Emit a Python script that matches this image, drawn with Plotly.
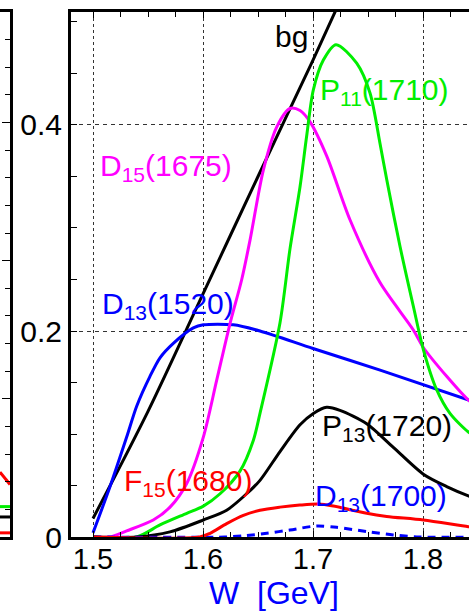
import plotly.graph_objects as go

# Partial-wave contributions to the cross section vs. W [GeV]
w_bg = [1.5, 1.55, 1.6, 1.65, 1.7, 1.73]
bg = [0.018, 0.122, 0.236, 0.350, 0.463, 0.533]

w_d13_1520 = [1.5, 1.5155, 1.5306, 1.5397, 1.5518, 1.5609, 1.573, 1.5912, 1.6003,
              1.6275, 1.6518, 1.70, 1.761, 1.85]
d13_1520 = [0.004, 0.049, 0.097, 0.127, 0.156, 0.174, 0.188, 0.203, 0.206,
            0.206, 0.200, 0.183, 0.162, 0.130]

w_d15_1675 = [1.5, 1.515, 1.5306, 1.5548, 1.57, 1.5852, 1.6003, 1.6124, 1.6245, 1.6352,
              1.6427, 1.6548, 1.667, 1.6791, 1.6882, 1.6973, 1.7124, 1.7336, 1.7609,
              1.7912, 1.8003, 1.8215, 1.8412, 1.85]
d15_1675 = [0.0, 0.0, 0.006, 0.0165, 0.029, 0.052, 0.097, 0.152, 0.207, 0.250,
            0.288, 0.356, 0.398, 0.416, 0.414, 0.403, 0.370, 0.308, 0.247,
            0.201, 0.184, 0.156, 0.133, 0.126]

w_p11_1710 = [1.5, 1.5397, 1.5609, 1.5852, 1.6003, 1.6155, 1.6336, 1.6458, 1.6518, 1.67,
              1.6791, 1.6882, 1.6942, 1.7003, 1.7094, 1.7209, 1.7397, 1.7518, 1.7609,
              1.767, 1.7791, 1.7912, 1.8003, 1.8124, 1.8245, 1.8412, 1.85]
p11_1710 = [0.0, 0.0, 0.0117, 0.023, 0.030, 0.042, 0.064, 0.094, 0.120, 0.208,
            0.280, 0.340, 0.389, 0.434, 0.463, 0.478, 0.460, 0.431, 0.382,
            0.347, 0.282, 0.224, 0.182, 0.143, 0.120, 0.102, 0.097]

w_p13_1720 = [1.5, 1.5397, 1.57, 1.6003, 1.6215, 1.6397, 1.6518, 1.67, 1.6882, 1.7003,
              1.7124, 1.7245, 1.7488, 1.773, 1.8003, 1.8215, 1.8412, 1.85]
p13_1720 = [0.0, 0.0, 0.005, 0.0165, 0.026, 0.042, 0.055, 0.083, 0.109, 0.120,
            0.126, 0.123, 0.110, 0.087, 0.061, 0.049, 0.040, 0.037]

w_f15_1680 = [1.5, 1.597, 1.6064, 1.6215, 1.6367, 1.6518, 1.67, 1.688, 1.705, 1.7185,
              1.7488, 1.767, 1.8003, 1.8412, 1.85]
f15_1680 = [0.0, 0.0, 0.0036, 0.013, 0.021, 0.026, 0.029, 0.031, 0.032, 0.030,
            0.023, 0.020, 0.0165, 0.010, 0.009]

w_d13_1700 = [1.5, 1.62, 1.64, 1.658, 1.679, 1.7033, 1.7215, 1.749, 1.773, 1.797, 1.85]
d13_1700 = [0.0, 0.0, 0.0015, 0.0036, 0.0068, 0.0107, 0.0094, 0.0052, 0.002, 0.0, 0.0]

# Right edge of the neighbouring panel
w_side = [1.83, 1.84]
side_red = [0.047, 0.038]
side_green = [0.022, 0.022]
side_black = [0.0145, 0.0145]
side_red_low = [0.003, 0.003]

x_ticks = [1.5, 1.6, 1.7, 1.8]
y_ticks = [0, 0.2, 0.4]
y_tick_text = ["0", "0.2", "0.4"]

labels = [
    ("bg", 1.6636, 0.4864, "black"),
    ("P<sub>11</sub>(1710)", 1.7045, 0.4325, "#00ee00"),
    ("D<sub>15</sub>(1675)", 1.5045, 0.3587, "#ff00ff"),
    ("D<sub>13</sub>(1520)", 1.5064, 0.2243, "#0000ff"),
    ("F<sub>15</sub>(1680)", 1.5264, 0.0529, "#ff0000"),
    ("P<sub>13</sub>(1720)", 1.7064, 0.1063, "black"),
    ("D<sub>13</sub>(1700)", 1.7000, 0.0383, "#0000ff"),
]

W, H = 469, 615
FONT = "Liberation Sans, Arial, sans-serif"

fig = go.Figure()

def curve(x, y, color, dash="solid", xa="x", ya="y"):
    fig.add_trace(go.Scatter(x=x, y=y, mode="lines", xaxis=xa, yaxis=ya,
                             line=dict(color=color, width=3, dash=dash, shape="spline",
                                       smoothing=0.8),
                             showlegend=False, hoverinfo="skip"))

curve(w_bg, bg, "black")
curve(w_d13_1520, d13_1520, "#0000ff")
curve(w_d15_1675, d15_1675, "#ff00ff")
curve(w_p11_1710, p11_1710, "#00ee00")
curve(w_p13_1720, p13_1720, "black")
curve(w_d13_1700, d13_1700, "#0000ff", dash="8px,6px")
curve(w_f15_1680, f15_1680, "#ff0000")

curve(w_side, side_red, "#ff0000", xa="x2", ya="y2")
curve(w_side, side_green, "#00ee00", xa="x2", ya="y2")
curve(w_side, side_black, "black", xa="x2", ya="y2")
curve(w_side, side_red_low, "#ff0000", xa="x2", ya="y2")

for text, x, y, color in labels:
    fig.add_annotation(x=x, y=y, xref="x", yref="y", text=text, showarrow=False,
                       xanchor="left", yanchor="middle",
                       font=dict(family=FONT, size=30, color=color))

# axis title
fig.add_annotation(x=273.5 / W, y=(537 - 593) / 525, xref="paper", yref="paper",
                   text="W&nbsp; [GeV]", showarrow=False, xanchor="center", yanchor="middle",
                   font=dict(family=FONT, size=32, color="#0000ff"))

fig.update_layout(
    width=W, height=H,
    margin=dict(l=0, r=0, t=12, b=78),
    paper_bgcolor="white", plot_bgcolor="white",
    xaxis=dict(domain=[71 / W, 1], range=[1.48, 1.8418], tickvals=x_ticks,
               ticktext=["1.5", "1.6", "1.7", "1.8"],
               ticks="inside", ticklen=6, tickwidth=1, tickcolor="black",
               ticklabelstandoff=-6,
               showgrid=True, gridcolor="#333333", gridwidth=1, griddash="dot",
               showline=True, linecolor="black", linewidth=3, mirror="allticks",
               zeroline=False,
               minor=dict(dtick=0.025, tick0=1.5, ticks="inside", ticklen=5,
                          tickcolor="black", showgrid=False),
               tickfont=dict(family=FONT, size=29, color="black")),
    yaxis=dict(domain=[0, 1], range=[0, 0.5097], tickvals=y_ticks, ticktext=y_tick_text,
               ticks="inside", ticklen=6, tickwidth=1, tickcolor="black",
               showgrid=True, gridcolor="#333333", gridwidth=1, griddash="4px,4px",
               showline=True, linecolor="black", linewidth=3, mirror=False,
               zeroline=False,
               minor=dict(dtick=0.05, tick0=0, ticks="inside", ticklen=6,
                          tickcolor="black", showgrid=False),
               tickfont=dict(family=FONT, size=30, color="black")),
    xaxis2=dict(domain=[0, 10 / W], range=[1.83, 1.84], anchor="y2",
                showticklabels=False, ticks="", showgrid=False, zeroline=False,
                showline=True, linecolor="black", linewidth=3, mirror=True),
    yaxis2=dict(domain=[0, 1], range=[0, 0.38], anchor="x2", side="right",
                dtick=0.1, ticks="inside", ticklen=8, tickcolor="black",
                showticklabels=False, showgrid=False, zeroline=False,
                showline=True, linecolor="black", linewidth=3,
                minor=dict(dtick=0.02, ticks="inside", ticklen=5, tickcolor="black",
                           showgrid=False)),
)

fig.write_html("out.html")
